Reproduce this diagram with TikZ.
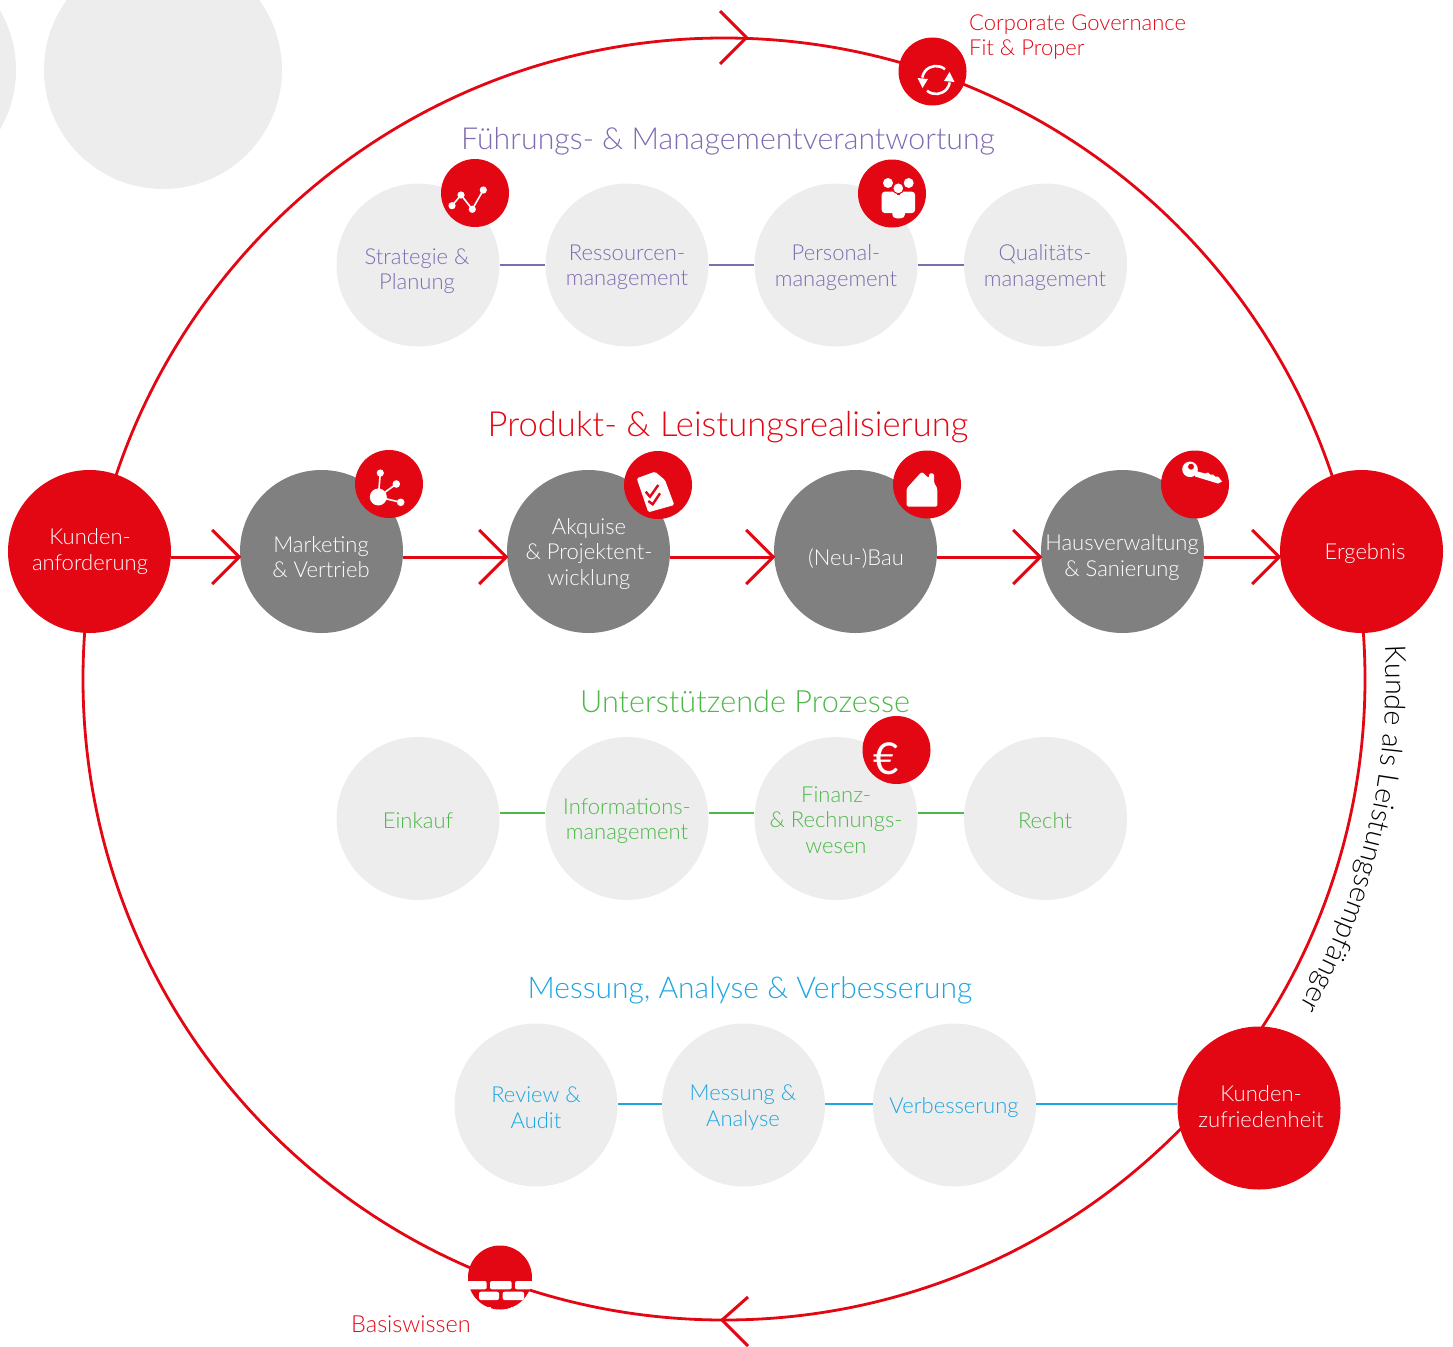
\documentclass[tikz,border=0pt]{standalone}
\usepackage{fontspec}
\setmainfont{Lato Light}
\newfontfamily\eurofont{Lato}
\usetikzlibrary{arrows.meta,decorations.text,calc}
\definecolor{cred}{HTML}{E30613}
\definecolor{cgrey}{HTML}{EDEDED}
\definecolor{cdark}{HTML}{808080}
\definecolor{cpurple}{HTML}{7F6BAF}
\definecolor{cgreen}{HTML}{4DB848}
\definecolor{cblue}{HTML}{1DA5E0}
\tikzset{
 disc/.style={circle,inner sep=0pt,minimum size=163pt,fill=#1},
 badge/.style={circle,inner sep=0pt,minimum size=68pt,fill=cred},
 lbl/.style={align=center,inner sep=0pt,text=#1,font=\fontsize{22}{25.5}\selectfont},
 head/.style={inner sep=0pt,text=#1,font=\fontsize{30.3}{30}\selectfont},
 link/.style={draw=#1,line width=1.2pt},
 flow/.style={draw=cred,line width=3pt,shorten >=-1.5pt,-{Straight Barb[length=27pt,width=54pt,line width=3pt]}},
 wing/.style={draw=cred,line width=3pt},
 ic/.style={white,line width=1.6pt},
}
\begin{document}
\begin{tikzpicture}[x=1pt,y=-1pt]
\useasboundingbox (0,0) rectangle (1453,1346);
\clip (0,0) rectangle (1453,1346);
% decorative discs
\node[circle,inner sep=0pt,minimum size=238pt,fill=cgrey] (deco1) at (-103,70) {};
\node[circle,inner sep=0pt,minimum size=238pt,fill=cgrey] (deco2) at (163,70) {};
% ring
\node[circle,inner sep=0pt,minimum size=1282pt,draw=cred,line width=2.8pt] (ring) at (724,679) {};
\path[decorate,decoration={text along path,text align=left,text={|\fontsize{28.5}{28.5}\selectfont|Kunde als Leistungsempfänger}}]
 ([shift={(2.9:662pt)}]ring.center) arc[start angle=2.9,end angle=-42,radius=662pt];
% ring arrowheads
\coordinate (ta) at (720,11); \coordinate (tb) at (746.5,37.5); \coordinate (tc) at (720,64);
\draw[wing,line join=miter] (ta) -- (tb) -- (tc);
\coordinate (ba) at (748,1297); \coordinate (bb) at (722,1320); \coordinate (bc) at (748,1346);
\draw[wing,line join=miter] (ba) -- (bb) -- (bc);
% headings
\node[head=cpurple] (h1) at (728,141.5) {Führungs- \& Managementverantwortung};
\node[head=cred,font=\fontsize{34.6}{34}\selectfont] (h2) at (728,427) {Produkt- \& Leistungsrealisierung};
\node[head=cgreen,font=\fontsize{30.7}{30}\selectfont] (h3) at (745,701.5) {Unterstützende Prozesse};
\node[head=cblue,font=\fontsize{30}{30}\selectfont] (h4) at (750,990) {Messung, Analyse \& Verbesserung};
% row 1
\node[disc=cgrey] (a1) at (418,265) {};
\node[disc=cgrey] (a2) at (627,265) {};
\node[disc=cgrey] (a3) at (836,265) {};
\node[disc=cgrey] (a4) at (1045.5,265) {};
\draw[link=cpurple] (a1) -- (a2); \draw[link=cpurple] (a2) -- (a3); \draw[link=cpurple] (a3) -- (a4);
\node[lbl=cpurple] (a1t) at (417,271) {Strategie \&\\Planung};
\node[lbl=cpurple] (a2t) at (627,267.5) {Ressourcen-\\management};
\node[lbl=cpurple] (a3t) at (836,267.5) {Personal-\\management};
\node[lbl=cpurple] (a4t) at (1045,267.5) {Qualitäts-\\management};
% row 2
\node[disc=cred] (k) at (89.5,551.5) {};
\node[disc=cdark] (b1) at (321.5,551.5) {};
\node[disc=cdark] (b2) at (588.5,551.5) {};
\node[disc=cdark] (b3) at (855.5,551.5) {};
\node[disc=cdark] (b4) at (1122.5,551.5) {};
\node[disc=cred] (e) at (1361.5,551.5) {};
\draw[flow] ([yshift=-5.5pt]k.east) -- ([yshift=-5.5pt]b1.west);
\draw[flow] ([yshift=-5.5pt]b1.east) -- ([yshift=-5.5pt]b2.west);
\draw[flow] ([yshift=-5.5pt]b2.east) -- ([yshift=-5.5pt]b3.west);
\draw[flow] ([yshift=-5.5pt]b3.east) -- ([yshift=-5.5pt]b4.west);
\draw[flow] ([yshift=-5.5pt]b4.east) -- ([yshift=-5.5pt]e.west);
\node[lbl=white] (kt) at (90,551.5) {Kunden-\\anforderung};
\node[lbl=white] (b1t) at (321,557) {Marketing\\\& Vertrieb};
\node[lbl=white] (b2t) at (589,554) {Akquise\\\& Projektent-\\wicklung};
\node[lbl=white] (b3t) at (856,559) {(Neu-)Bau};
\node[lbl=white] (b4t) at (1122,557.5) {Hausverwaltung\\\& Sanierung};
\node[lbl=white] (et) at (1365,554) {Ergebnis};
% row 3
\node[disc=cgrey] (c1) at (418,818.5) {};
\node[disc=cgrey] (c2) at (627,818.5) {};
\node[disc=cgrey] (c3) at (836,818.5) {};
\node[disc=cgrey] (c4) at (1045.5,818.5) {};
\draw[link=cgreen] ([yshift=5.5pt]c1.east) -- ([yshift=5.5pt]c2.west);
\draw[link=cgreen] ([yshift=5.5pt]c2.east) -- ([yshift=5.5pt]c3.west);
\draw[link=cgreen] ([yshift=5.5pt]c3.east) -- ([yshift=5.5pt]c4.west);
\node[lbl=cgreen] (c1t) at (418,820.5) {Einkauf};
\node[lbl=cgreen] (c2t) at (627,821) {Informations-\\management};
\node[lbl=cgreen] (c3t) at (836,820) {Finanz-\\\& Rechnungs-\\wesen};
\node[lbl=cgreen] (c4t) at (1045,820.5) {Recht};
% row 4
\node[disc=cgrey] (d1) at (536,1105) {};
\node[disc=cgrey] (d2) at (743.5,1105) {};
\node[disc=cgrey] (d3) at (954.5,1105) {};
\node[disc=cred] (z) at (1259,1108) {};
\draw[link=cblue] ([yshift=1pt]d1.east) -- ([yshift=1pt]d2.west); \draw[link=cblue] ([yshift=1pt]d2.east) -- ([yshift=1pt]d3.west);
\draw[link=cblue] ([yshift=1pt]d3.east) -- ([yshift=4pt]z.west);
\node[lbl=cblue] (d1t) at (536,1107.5) {Review \&\\Audit};
\node[lbl=cblue] (d2t) at (743,1107.5) {Messung \&\\Analyse};
\node[lbl=cblue] (d3t) at (954,1108) {Verbesserung};
\node[lbl=white] (zt) at (1261,1106.5) {Kunden-\\zufriedenheit};
% side labels
\node[lbl=cred,align=left,anchor=west] (gov) at (969,37) {Corporate Governance\\Fit \& Proper};
\node[lbl=cred,font=\fontsize{23.5}{25.5}\selectfont] (bw) at (411,1324) {Basiswissen};
% governance badge
\node[badge] (i0) at (932.5,71.5) {};
\draw[white,line width=2.6pt] (936,80) ++(50:14pt) arc[start angle=50,end angle=170,radius=14pt];
\draw[white,line width=2.6pt] (936,80) ++(230:14pt) arc[start angle=230,end angle=350,radius=14pt];
\fill[white] (917.5,78) -- (928,79) -- (922.5,88) -- cycle;
\fill[white] (954.5,82) -- (944,81) -- (949.5,72) -- cycle;
% strategy badge
\node[badge] (i1) at (475,193) {};
\draw[ic] (452,205.7) -- (461,195) -- (472.3,209.3) -- (483.3,190);
\foreach \p in {(452,205.7),(461,195),(472.3,209.3),(483.3,190)} \fill[white] \p circle[radius=3.6pt];
% people badge
\node[badge] (i2) at (892,193.5) {};
\fill[white] (888,183) circle[radius=5pt] (908.7,183) circle[radius=5pt];
\fill[white,rounded corners=3pt] (881.7,191.7) rectangle (897,213);
\fill[white,rounded corners=3pt] (900,191.7) rectangle (915,213);
\draw[cred,line width=1pt,fill=white] (898.3,188.3) circle[radius=5.5pt];
\fill[white,rounded corners=4pt] (892.3,195) rectangle (905,218.3);
% marketing badge
\node[badge] (i3) at (389,484) {};
\draw[ic] (378.3,497) -- (380.3,473) (378.3,497) -- (396.3,484) (378.3,497) -- (400.7,502.3);
\fill[white] (378.3,497) circle[radius=8.5pt] (380.3,473) circle[radius=3.6pt] (396.3,484) circle[radius=3.8pt] (400.7,502.3) circle[radius=3.8pt];
% acquisition badge
\node[badge] (i4) at (658,485) {};
\fill[white,rounded corners=1.5pt] (636.7,478.3) -- (655,471.7) -- (665,480) -- (674.3,505) -- (648.3,512.3) -- cycle;
\draw[cred,line width=2.4pt] (645.7,491.7) -- (650,496.7) -- (658.3,485);
\draw[cred,line width=2.4pt] (648.3,501) -- (652.7,504.3) -- (660,493.3);
% house badge
\node[badge] (i5) at (927,484.5) {};
\fill[white,rounded corners=1.5pt] (906.7,488.3) -- (921.7,471.7) -- (929,478.3) -- (929,473.3) -- (934,473.3) -- (934,482.7) -- (937.3,488.3) -- (937.3,506.7) -- (906.7,506.7) -- cycle;
% key badge
\node[badge] (i6) at (1195,484.5) {};
\fill[white] (1196,471) -- (1205,473.5) -- (1208,472.5) -- (1210,474.5) -- (1213,474.5) -- (1215,476.5) -- (1218,476.5) -- (1222,481.5) -- (1218,483.5) -- (1195,476.5) -- cycle;
\fill[white] (1190,469.3) circle[radius=7.8pt];
\fill[cred] (1191,466.7) circle[radius=3pt];
% euro badge
\node[badge] (i7) at (896.5,750) {};
\node[inner sep=0pt,text=white,font=\fontsize{44}{44}\eurofont] (eu) at (886.5,759) {€};
% bricks badge
\node[circle,inner sep=0pt,minimum size=64pt,fill=cred] (i8) at (500,1277.5) {};
\begin{scope}
\clip (500,1277.5) circle[radius=32.5pt];
\fill[white,rounded corners=2pt] (460,1281) rectangle (486.7,1289.3);
\fill[white,rounded corners=2pt] (490,1281) rectangle (511.7,1289.3);
\fill[white,rounded corners=2pt] (515,1281) rectangle (540,1289.3);
\fill[white,rounded corners=2pt] (479,1291.7) rectangle (499,1300);
\fill[white,rounded corners=2pt] (502.7,1291.7) rectangle (524,1300);
\fill[white] (465,1306.5) rectangle (491,1312);
\fill[white] (511,1306.5) rectangle (535,1312);
\end{scope}
\end{tikzpicture}
\end{document}
